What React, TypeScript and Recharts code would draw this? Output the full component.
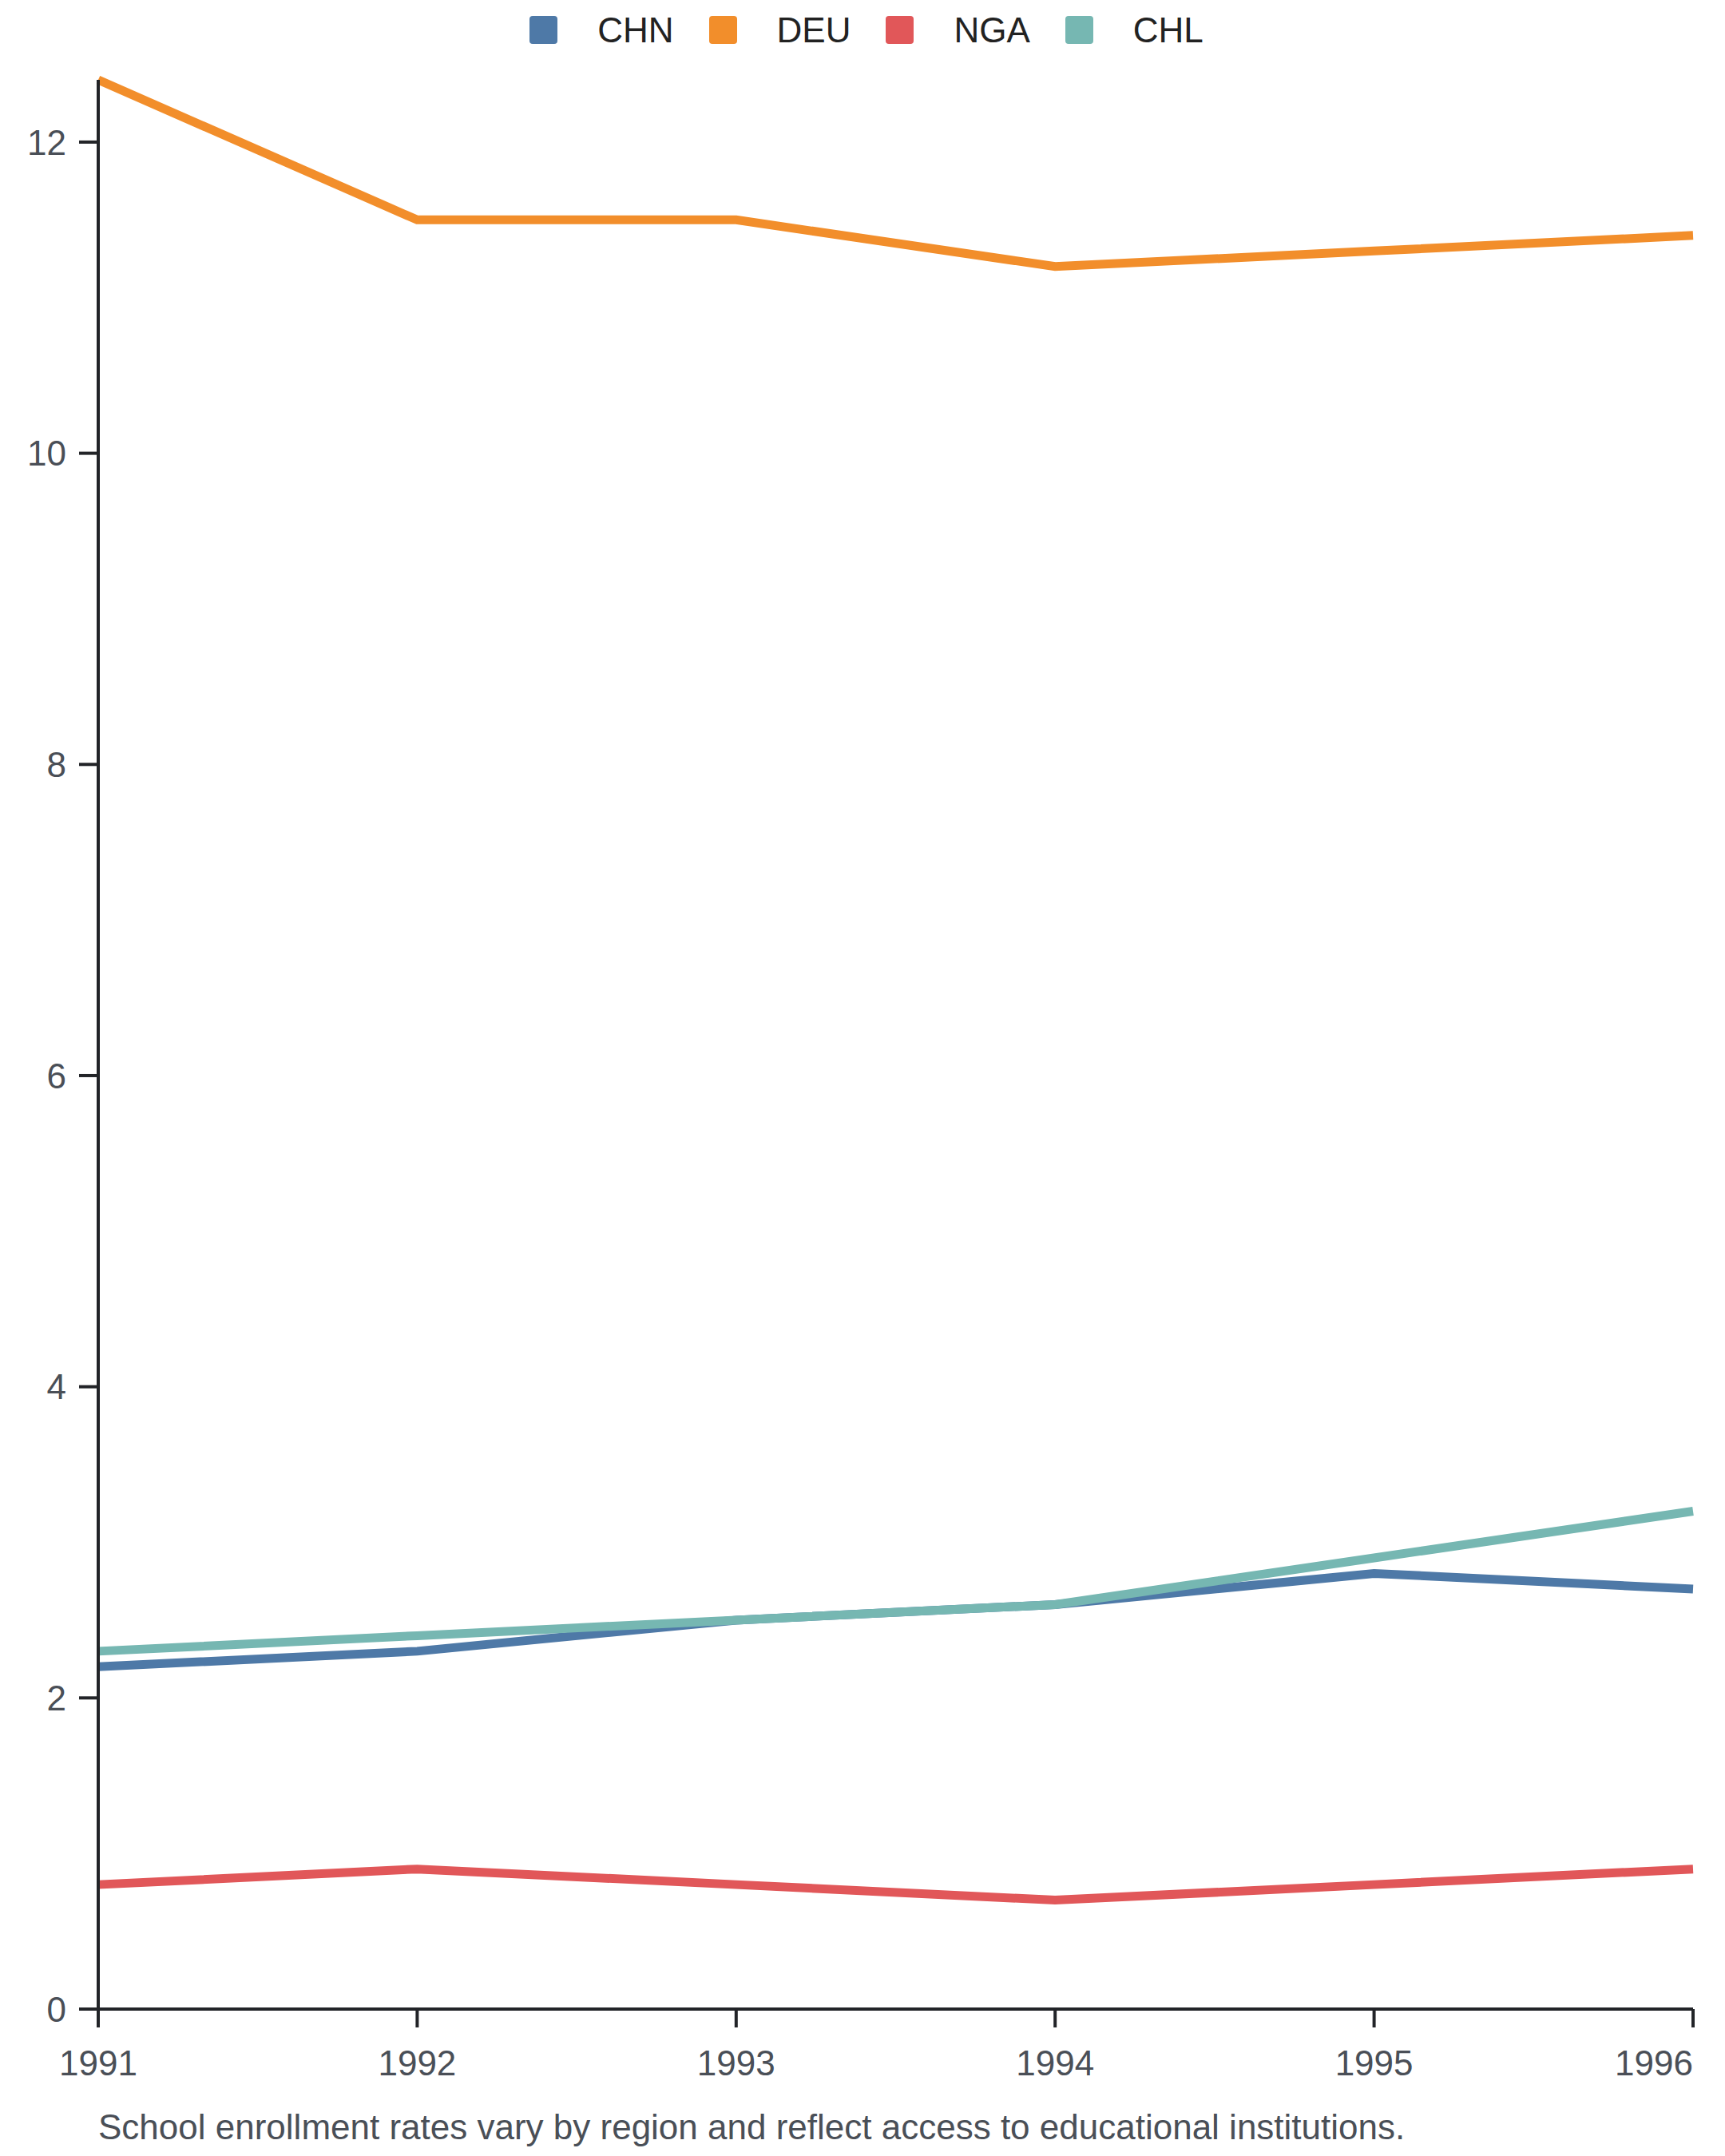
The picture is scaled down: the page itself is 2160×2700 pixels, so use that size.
import React from 'react';
import { LineChart, Line, XAxis, YAxis, Legend, Label } from 'recharts';

const years = ['1991', '1992', '1993', '1994', '1995', '1996'];
const chn = [2.2, 2.3, 2.5, 2.6, 2.8, 2.7];
const deu = [12.4, 11.5, 11.5, 11.2, 11.3, 11.4];
const nga = [0.8, 0.9, 0.8, 0.7, 0.8, 0.9];
const chl = [2.3, 2.4, 2.5, 2.6, 2.9, 3.2];
const yTicks = [0, 2, 4, 6, 8, 10, 12];

const seriesList = [
  { key: 'CHN', color: '#4e79a7' },
  { key: 'DEU', color: '#f28e2b' },
  { key: 'NGA', color: '#e15759' },
  { key: 'CHL', color: '#76b7b2' },
];

const caption = 'School enrollment rates vary by region and reflect access to educational institutions.';

const data = years.map((year, i) => ({
  year,
  CHN: chn[i],
  DEU: deu[i],
  NGA: nga[i],
  CHL: chl[i],
}));

const FONT = '"Liberation Sans", Arial, sans-serif';
const AXIS = '#222428';
const LABEL = '#4a4f57';

const LegendContent = () => (
  <div style={{ display: 'flex', justifyContent: 'center', alignItems: 'center', height: 75, paddingLeft: 10, fontFamily: FONT }}>
    {seriesList.map((s, i) => (
      <div key={s.key} style={{ display: 'flex', alignItems: 'center', marginLeft: i === 0 ? 0 : 44 }}>
        <span style={{ width: 35, height: 35, background: s.color, borderRadius: 4, display: 'inline-block' }} />
        <span style={{ marginLeft: 50, fontSize: 44, lineHeight: '44px', color: '#222' }}>{s.key}</span>
      </div>
    ))}
  </div>
);

const XTick = (props: any) => {
  const { x, y, payload, index } = props;
  const last = index === years.length - 1;
  return (
    <text
      x={x}
      y={y}
      dy="0.71em"
      textAnchor={last ? 'end' : 'middle'}
      fill={LABEL}
      fontSize={44}
      fontFamily={FONT}
    >
      {payload.value}
    </text>
  );
};

const App = () => {
  return (
    <div style={{ position: 'absolute', left: 0, top: 0, width: 2160, height: 2700, background: '#fff' }}>
      <LineChart width={2160} height={2700} data={data} margin={{ top: 25, right: 40, left: 0, bottom: 0 }}>
        <Legend verticalAlign="top" content={<LegendContent />} wrapperStyle={{ top: 0, left: 0, width: 2160 }} />
        <XAxis
          dataKey="year"
          height={184}
          tickSize={23}
          tickMargin={29}
          interval={0}
          stroke={AXIS}
          strokeWidth={4}
          tickLine={{ stroke: AXIS, strokeWidth: 4 }}
          tick={<XTick />}
        >
          <Label
            content={(p: any) => (
              <text
                x={p.viewBox.x}
                y={p.viewBox.y + 163}
                textAnchor="start"
                fill={LABEL}
                fontSize={44}
                fontFamily={FONT}
              >
                {caption}
              </text>
            )}
          />
        </XAxis>
        <YAxis
          width={123}
          domain={[0, 'dataMax']}
          ticks={yTicks}
          tickSize={24}
          tickMargin={16}
          stroke={AXIS}
          strokeWidth={4}
          tickLine={{ stroke: AXIS, strokeWidth: 4 }}
          tick={{ fill: LABEL, fontSize: 44, fontFamily: FONT }}
        />
        {seriesList.map((s) => (
          <Line
            key={s.key}
            type="linear"
            dataKey={s.key}
            stroke={s.color}
            strokeWidth={11}
            dot={false}
            activeDot={false}
            isAnimationActive={false}
          />
        ))}
      </LineChart>
    </div>
  );
};

export default App;
